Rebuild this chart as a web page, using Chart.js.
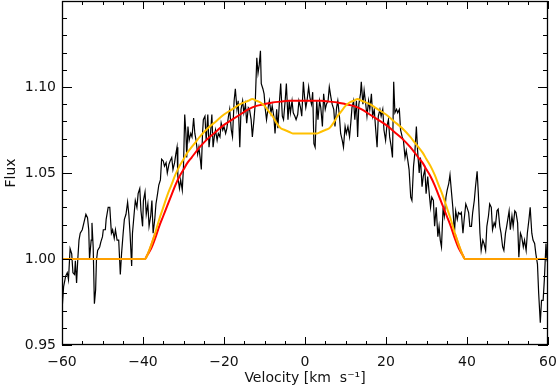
<!DOCTYPE html>
<html>
<head>
<meta charset="utf-8">
<script src="https://cdn.jsdelivr.net/npm/chart.js@4.4.1/dist/chart.umd.min.js"></script>
<style>
html,body{margin:0;padding:0;background:#fff;}
#wrap{width:556px;height:390px;position:relative;}
</style>
</head>
<body>
<div id="wrap"><canvas id="c" width="556" height="390"></canvas></div>
<script>
// Observed spectrum (velocity in km/s, flux)
const obsVelocity = [
-60.0,-59.6,-59.1,-58.7,-58.4,-58.0,-57.6,-57.3,-56.9,-56.7,-56.4,-56.1,-55.8,-55.5,-55.0,-54.6,-54.1,-53.7,-53.4,-53.2,-52.8,-52.6,-52.3,-52.0,-51.7,-51.5,-51.2,-50.7,-50.4,-50.0,
-49.8,-49.3,-49.1,-48.6,-48.2,-47.8,-47.5,-47.1,-46.8,-46.4,-46.0,-45.6,-45.3,-44.9,-44.6,-44.2,-43.8,-43.5,-43.2,-42.8,-42.6,-42.2,-41.9,-41.5,-41.2,-40.8,-40.5,-40.1,
-39.9,-39.5,-39.2,-38.8,-38.5,-38.1,-37.8,-37.5,-37.1,-36.8,-36.4,-36.1,-35.7,-35.4,-35.0,-34.7,-34.3,-34.0,-33.6,-33.3,-32.9,-32.6,-32.2,-31.9,-31.6,-31.4,-31.0,-30.7,-30.3,
-30.0,-29.7,-29.4,-29.2,-28.9,-28.6,-28.2,-27.9,-27.5,-27.2,-26.9,-26.5,-26.2,-25.8,-25.6,-25.3,-25.1,-24.7,-24.4,-24.0,-23.7,-23.3,-23.0,-22.7,-22.4,-22.1,-21.7,-21.4,-21.0,-20.7,-20.3,
-20.0,-19.6,-19.3,-18.9,-18.6,-18.2,-17.9,-17.5,-17.2,-16.8,-16.5,-16.1,-15.8,-15.4,-15.1,-14.7,-14.4,-14.0,-13.7,-13.3,-13.0,-12.6,-12.3,-11.9,-11.6,-11.3,-11.0,-10.8,-10.4,-10.1,
-9.8,-9.5,-9.1,-8.8,-8.4,-8.1,-7.7,-7.4,-7.0,-6.7,-6.3,-6.0,-5.6,-5.3,-4.9,-4.6,-4.2,-3.9,-3.6,-3.2,-2.9,-2.5,-2.2,-1.8,-1.5,-1.1,-0.8,-0.4,-0.1,
0.2,0.5,0.9,1.2,1.6,1.9,2.2,2.5,2.9,3.2,3.6,3.9,4.3,4.6,5.0,5.3,5.7,6.0,6.4,6.7,7.1,7.4,7.8,8.1,8.5,8.8,9.2,9.5,9.9,
10.2,10.6,11.0,11.3,11.6,12.0,12.3,12.7,13.0,13.3,13.7,13.9,14.3,14.6,15.0,15.3,15.7,16.0,16.4,16.7,17.1,17.4,17.8,18.1,18.5,18.8,19.2,19.5,19.9,
20.2,20.6,20.9,21.3,21.6,21.9,22.2,22.6,22.9,23.3,23.6,24.0,24.3,24.7,25.0,25.4,25.7,26.1,26.4,26.8,27.1,27.5,27.8,28.2,28.5,28.9,29.2,29.6,29.9,
30.3,30.6,31.0,31.3,31.7,32.0,32.4,32.8,33.1,33.4,33.7,34.1,34.4,34.8,35.1,35.5,35.8,36.2,36.5,36.9,37.2,37.6,37.9,38.3,38.6,39.0,39.3,39.7,40.0,
40.4,40.7,41.1,41.4,41.8,42.1,42.5,42.8,43.2,43.5,43.9,44.2,44.6,44.9,45.3,45.6,46.0,46.3,46.7,47.0,47.4,47.7,48.1,48.4,48.8,49.1,49.5,49.8,
50.4,50.7,51.1,51.4,51.8,52.1,52.5,52.8,53.2,53.5,53.9,54.2,54.6,54.9,55.3,55.6,56.0,56.3,56.7,57.0,57.4,57.7,58.1,58.4,58.8,59.1,59.5,59.7,60.0
];
const obsFlux = [
0.970,0.984,0.990,0.992,0.988,1.006,1.003,0.992,0.991,0.999,0.986,1.000,1.011,1.015,1.017,1.021,1.026,1.024,1.017,1.000,1.011,1.021,1.007,0.974,0.982,0.999,1.005,1.007,1.010,1.013,
1.017,1.017,1.023,1.030,1.030,1.015,1.017,1.012,1.017,1.011,1.011,0.991,1.003,1.015,1.023,1.026,1.033,1.026,1.015,0.996,1.015,1.026,1.034,1.030,1.038,1.041,1.028,1.019,
1.034,1.039,1.026,1.032,1.019,1.025,1.034,1.015,1.023,1.032,1.038,1.043,1.046,1.058,1.057,1.054,1.056,1.050,1.055,1.057,1.059,1.052,1.056,1.061,1.065,1.048,1.041,1.046,1.040,
1.054,1.084,1.073,1.059,1.077,1.069,1.073,1.071,1.082,1.073,1.069,1.061,1.065,1.057,1.052,1.073,1.081,1.083,1.069,1.084,1.065,1.074,1.084,1.065,1.071,1.075,1.069,1.073,1.071,1.079,1.075,
1.077,1.073,1.076,1.083,1.087,1.075,1.071,1.092,1.099,1.087,1.092,1.065,1.087,1.092,1.085,1.090,1.079,1.088,1.087,1.081,1.071,1.081,1.090,1.117,1.108,1.113,1.121,1.102,1.099,1.096,
1.087,1.081,1.088,1.092,1.085,1.089,1.083,1.073,1.087,1.076,1.092,1.102,1.083,1.081,1.092,1.102,1.081,1.092,1.085,1.092,1.085,1.083,1.081,1.084,1.092,1.088,1.083,1.103,1.094,
1.088,1.092,1.100,1.094,1.090,1.097,1.067,1.065,1.092,1.081,1.092,1.088,1.077,1.096,1.087,1.090,1.092,1.100,1.094,1.090,1.087,1.077,1.088,1.092,1.083,1.073,1.069,1.065,1.077,
1.073,1.077,1.071,1.079,1.088,1.092,1.081,1.092,1.071,1.090,1.096,1.103,1.090,1.098,1.090,1.083,1.092,1.087,1.096,1.083,1.087,1.077,1.065,1.083,1.087,1.083,1.087,1.075,1.069,
1.077,1.081,1.071,1.065,1.059,1.103,1.085,1.087,1.085,1.087,1.075,1.071,1.069,1.059,1.063,1.057,1.052,1.036,1.034,1.054,1.061,1.077,1.063,1.050,1.059,1.042,1.048,1.052,1.038,
1.048,1.040,1.030,1.036,1.034,1.019,1.030,1.013,1.019,1.011,1.007,1.030,1.025,1.036,1.040,1.044,1.049,1.038,1.030,1.015,1.028,1.023,1.027,1.026,1.027,1.015,1.023,1.032,1.030,
1.027,1.019,1.019,1.027,1.034,1.042,1.051,1.038,1.015,1.005,1.011,1.009,1.005,1.019,1.025,1.032,1.030,1.017,1.021,1.019,1.028,1.029,1.019,1.015,1.007,1.005,1.015,1.019,
1.028,1.017,1.025,1.019,1.028,1.027,1.021,1.001,1.015,1.013,1.007,1.011,1.005,1.015,1.023,1.030,1.015,1.011,1.009,1.003,0.997,0.980,0.963,0.976,0.976,0.988,1.009,1.001,1.005
];

// Model 1 (red): smooth profile
const redVelocity = [-60,-40,-39.5,-39,-38,-37,-36,-35,-34,-33,-32,-31,-30,-29,-28,-26,-24,-22,-20,-18,-16,-14,-12,-10,-8,-6,-4,-2,0,2,4,6,8,10,12,14,16,18,20,22,24,26,28,29,30,31,32,33,34,35,36,37,38,39,39.5,40,60];
const redFlux =     [1.000,1.000,1.000,1.002,1.006,1.012,1.019,1.025,1.031,1.037,1.043,1.048,1.052,1.056,1.059,1.065,1.070,1.074,1.078,1.081,1.084,1.087,1.089,1.090,1.091,1.0915,1.092,1.092,1.092,1.092,1.092,1.0915,1.091,1.090,1.089,1.087,1.084,1.081,1.078,1.074,1.070,1.065,1.059,1.056,1.052,1.048,1.043,1.037,1.031,1.025,1.019,1.012,1.006,1.002,1.000,1.000,1.000];

// Model 2 (gold): double-peaked profile
const goldVelocity = [-60,-40,-39.5,-39,-38,-37,-36,-35,-34,-33,-32,-31,-30,-29,-28,-27,-26,-24,-22,-20,-18,-16,-14,-13,-12,-11,-10,-9,-8,-7,-6,-5,-4,-3,-2,-1,0,1,2,3,4,5,6,7,8,9,10,11,12,13,14,16,18,20,22,24,26,27,28,29,30,31,32,33,34,35,36,37,38,39,39.5,40,60];
const goldFlux =     [1.000,1.000,1.000,1.002,1.008,1.015,1.023,1.030,1.037,1.043,1.049,1.054,1.058,1.062,1.065,1.068,1.071,1.076,1.080,1.084,1.087,1.090,1.092,1.093,1.092,1.091,1.089,1.086,1.083,1.079,1.076,1.075,1.074,1.073,1.073,1.073,1.073,1.073,1.073,1.073,1.074,1.075,1.076,1.079,1.083,1.086,1.089,1.091,1.092,1.093,1.092,1.090,1.087,1.084,1.080,1.076,1.071,1.068,1.065,1.062,1.058,1.054,1.049,1.043,1.037,1.030,1.023,1.015,1.008,1.002,1.000,1.000,1.000];

// Orange continuum segments
const orangeLeftVelocity = [-60,-40,-39.5,-39,-38,-37];
const orangeLeftFlux = [1.000,1.000,1.000,1.002,1.008,1.015];
const orangeRightVelocity = [37,38,39,39.5,40,60];
const orangeRightFlux = [1.015,1.008,1.002,1.000,1.000,1.000];

const xTickLabels = [-60,-40,-20,0,20,40,60];
const yTickLabels = [0.95,1.00,1.05,1.10];

function pts(xs, ys){ return xs.map((x,i)=>({x:x, y:ys[i]})); }

const framePlugin = {
  id:'frame',
  afterDatasetsDraw(chart){
    const {ctx, chartArea:a, scales:{x, y}} = chart;
    ctx.save();
    ctx.strokeStyle = '#000';
    ctx.lineWidth = 1;
    ctx.beginPath();
    for (let v=-60; v<=60; v+=5){
      const px = Math.round(x.getPixelForValue(v)) + 0.5;
      const len = (v % 20 === 0) ? 8 : 4;
      ctx.moveTo(px, a.bottom); ctx.lineTo(px, a.bottom - len);
      ctx.moveTo(px, a.top); ctx.lineTo(px, a.top + len);
    }
    for (let k=95; k<=115; k+=1){
      const v = k/100;
      const py = Math.round(y.getPixelForValue(v)) + 0.5;
      const len = (k % 5 === 0) ? 10 : 5;
      ctx.moveTo(a.left, py); ctx.lineTo(a.left + len, py);
      ctx.moveTo(a.right, py); ctx.lineTo(a.right - len, py);
    }
    ctx.stroke();
    ctx.lineWidth = 1.3;
    ctx.strokeRect(Math.round(a.left)+0.5, Math.round(a.top)+0.5, Math.round(a.right-a.left)-1, Math.round(a.bottom-a.top)-1);
    ctx.restore();
  }
};

const font = {family:'"DejaVu Sans", "Liberation Sans", sans-serif', size:14};

new Chart(document.getElementById('c'), {
  type:'line',
  data:{
    datasets:[
      {data:pts(obsVelocity, obsFlux), borderColor:'#000', borderWidth:1.2, pointRadius:0, tension:0, order:10},
      {data:pts(redVelocity, redFlux), borderColor:'#ff0000', borderWidth:2, pointRadius:0, cubicInterpolationMode:'monotone', order:3},
      {data:pts(goldVelocity, goldFlux), borderColor:'#ffc000', borderWidth:2, pointRadius:0, cubicInterpolationMode:'monotone', order:2},
      {data:pts(orangeLeftVelocity, orangeLeftFlux), borderColor:'#ffa000', borderWidth:2, pointRadius:0, cubicInterpolationMode:'monotone', order:1},
      {data:pts(orangeRightVelocity, orangeRightFlux), borderColor:'#ffa000', borderWidth:2, pointRadius:0, cubicInterpolationMode:'monotone', order:1}
    ]
  },
  options:{
    responsive:false,
    animation:false,
    devicePixelRatio:1,
    layout:{padding:{left:0, right:8, top:1, bottom:0}},
    plugins:{legend:{display:false}, tooltip:{enabled:false}},
    scales:{
      x:{
        type:'linear', min:-60, max:60,
        afterBuildTicks(s){ s.ticks = xTickLabels.map(v=>({value:v})); },
        afterFit(s){ s.height = 45; s.paddingLeft = 0; s.paddingRight = 0; s.paddingTop = 0; s.paddingBottom = 0; },
        grid:{display:false, drawTicks:false},
        border:{display:false},
        ticks:{font:font, color:'#111', padding:9, maxRotation:0, autoSkip:false,
               callback:(v)=> (v<0 ? '\u2212'+Math.abs(v) : String(v))},
        title:{display:true, text:'Velocity [km  s\u207B\u00B9]', font:font, color:'#111', padding:{top:0,bottom:3}}
      },
      y:{
        type:'linear', min:0.95, max:1.15,
        afterBuildTicks(s){ s.ticks = yTickLabels.map(v=>({value:v})); },
        afterFit(s){ s.width = 62; s.paddingLeft = 0; s.paddingRight = 0; s.paddingTop = 0; s.paddingBottom = 0; },
        grid:{display:false, drawTicks:false},
        border:{display:false},
        ticks:{font:font, color:'#111', padding:6, autoSkip:false, callback:(v)=>Number(v).toFixed(2)},
        title:{display:true, text:'Flux', font:font, color:'#111', padding:{top:3,bottom:0}}
      }
    }
  },
  plugins:[framePlugin]
});
</script>
</body>
</html>
